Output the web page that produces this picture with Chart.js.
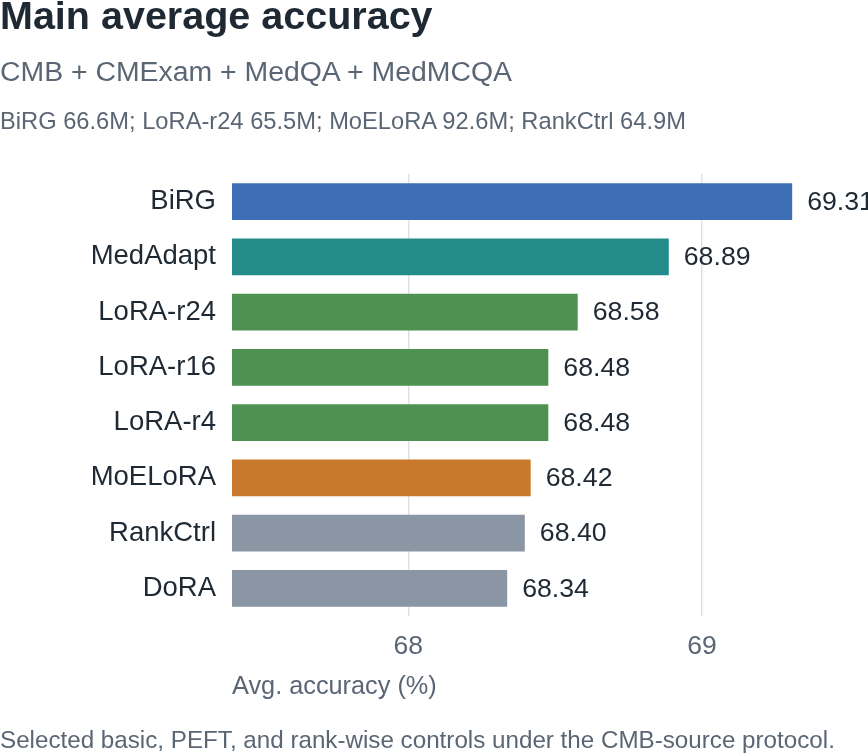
<!DOCTYPE html>
<html>
<head>
<meta charset="utf-8">
<script src="https://cdn.jsdelivr.net/npm/chart.js@4.4.1/dist/chart.umd.min.js"></script>
<style>
  html, body { margin: 0; padding: 0; background: #fff; }
  #wrap { position: relative; width: 868px; height: 756px; overflow: hidden; font-family: 'Liberation Sans', Arial, sans-serif; }
  #chart { position: absolute; left: 0; top: 0; }
  .txt { position: absolute; left: 0; white-space: nowrap; line-height: 1; }
  #title { top: -4.4px; font-size: 39.5px; font-weight: bold; color: #1f2933; }
  #subtitle { top: 56.5px; font-size: 28.4px; color: #5b6675; }
  #params { top: 110.4px; font-size: 23.7px; color: #5b6675; }
  #footer { top: 727.5px; font-size: 24.2px; color: #5b6675; }
</style>
</head>
<body>
<div id="wrap">
  <canvas id="chart" width="868" height="756"></canvas>
  <div class="txt" id="title">Main average accuracy</div>
  <div class="txt" id="subtitle">CMB + CMExam + MedQA + MedMCQA</div>
  <div class="txt" id="params">BiRG 66.6M; LoRA-r24 65.5M; MoELoRA 92.6M; RankCtrl 64.9M</div>
  <div class="txt" id="footer">Selected basic, PEFT, and rank-wise controls under the CMB-source protocol.</div>
</div>
<script>
const categories = ['BiRG', 'MedAdapt', 'LoRA-r24', 'LoRA-r16', 'LoRA-r4', 'MoELoRA', 'RankCtrl', 'DoRA'];
const accuracy = [69.31, 68.89, 68.58, 68.48, 68.48, 68.42, 68.40, 68.34];
const groups = ['ours', 'adapter', 'lora', 'lora', 'lora', 'moe', 'control', 'control'];
const xTicks = [68, 69];

const groupColors = {
  ours: '#3e6fb6',
  adapter: '#238b89',
  lora: '#4e9150',
  moe: '#c8792c',
  control: '#8a96a3'
};

Chart.defaults.font.family = "'Liberation Sans', Arial, sans-serif";

// numbers at the end of each bar
const valueLabels = {
  id: 'valueLabels',
  afterDatasetsDraw(chart) {
    const ctx = chart.ctx;
    const meta = chart.getDatasetMeta(0);
    ctx.save();
    ctx.font = "26.7px 'Liberation Sans', Arial, sans-serif";
    ctx.fillStyle = '#1f2933';
    ctx.textBaseline = 'middle';
    ctx.textAlign = 'left';
    meta.data.forEach((bar, i) => {
      ctx.fillText(accuracy[i].toFixed(2), bar.x + 14, bar.y + 1);
    });
    ctx.restore();
  }
};

new Chart(document.getElementById('chart'), {
  type: 'bar',
  data: {
    labels: categories,
    datasets: [{
      label: 'Avg. accuracy',
      data: accuracy,
      backgroundColor: groups.map(g => groupColors[g]),
      borderColor: 'rgba(255,255,255,0.25)',
      borderWidth: 1,
      borderSkipped: false,
      barPercentage: 0.705,
      categoryPercentage: 1
    }]
  },
  options: {
    indexAxis: 'y',
    responsive: false,
    animation: false,
    layout: { padding: { top: 174, right: 19, bottom: 0, left: 0 } },
    plugins: {
      legend: { display: false },
      tooltip: { enabled: false }
    },
    scales: {
      x: {
        min: 67.4,
        max: 69.5,
        afterBuildTicks: s => { s.ticks = xTicks.map(v => ({ value: v })); },
        afterFit: s => { s.height = 140; },
        grid: { color: '#dde1e7', lineWidth: 1.5, drawTicks: false },
        border: { display: false },
        ticks: { color: '#5b6675', font: { size: 26.5 }, padding: 15 },
        title: {
          display: true,
          text: 'Avg. accuracy (%)',
          align: 'start',
          color: '#5b6675',
          font: { size: 25.3 },
          padding: { top: 0, bottom: 54 }
        }
      },
      y: {
        afterFit: s => { s.width = 232; },
        grid: { display: false, drawTicks: false },
        border: { display: false },
        ticks: { color: '#1f2933', font: { size: 27.5 }, padding: 16 }
      }
    }
  },
  plugins: [valueLabels]
});
</script>
</body>
</html>
